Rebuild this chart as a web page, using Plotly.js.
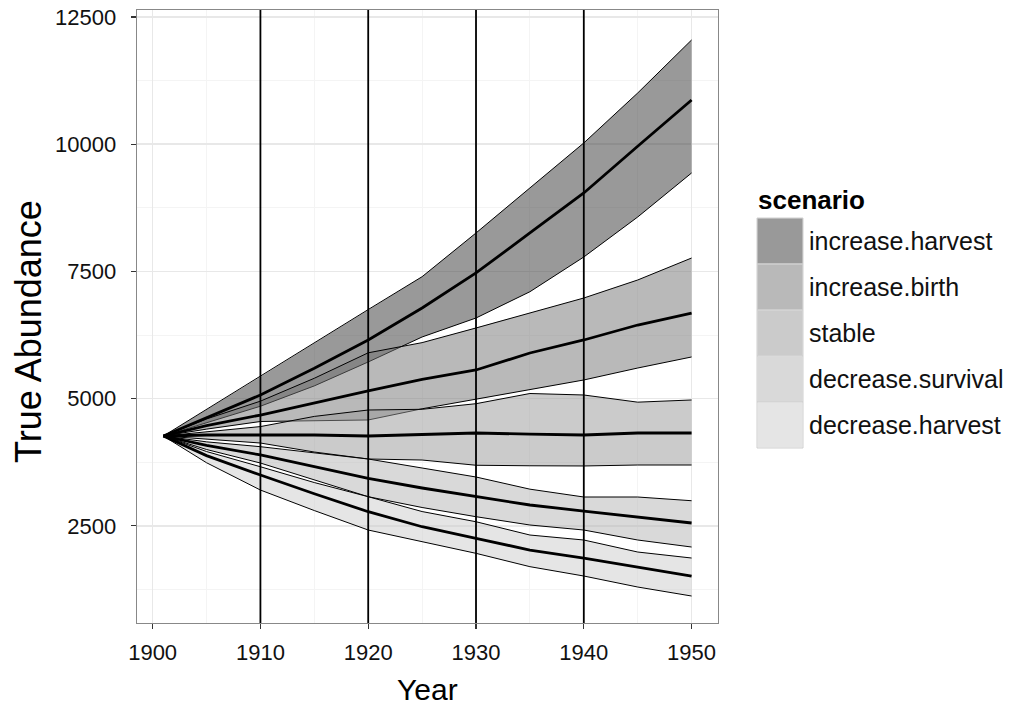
<!DOCTYPE html>
<html>
<head>
<meta charset="utf-8">
<script src="https://cdn.plot.ly/plotly-3.0.1.min.js"></script>
<style>
  html, body { margin: 0; padding: 0; background: #ffffff; }
  #chart { width: 1010px; height: 708px; }
</style>
</head>
<body>
<div id="chart"></div>
<script>
// Simulated population trajectories, 1901-1950: mean and 95% band per scenario
const years = [1901, 1905, 1910, 1915, 1920, 1925, 1930, 1935, 1940, 1945, 1950];

const scenarios = ["increase.harvest", "increase.birth", "stable", "decrease.survival", "decrease.harvest"];

const incHarvestLower = [4265, 4520, 4850, 5250, 5720, 6211, 6584, 7100, 7783, 8569, 9434];
const incHarvestMean  = [4265, 4625, 5071, 5595, 6152, 6781, 7469, 8255, 9041, 9960, 10869];
const incHarvestUpper = [4265, 4790, 5430, 6090, 6750, 7396, 8255, 9140, 10024, 11006, 12048];

const incBirthLower = [4265, 4400, 4550, 4570, 4580, 4800, 4990, 5169, 5366, 5601, 5818];
const incBirthMean  = [4265, 4470, 4677, 4920, 5150, 5380, 5562, 5896, 6152, 6446, 6682];
const incBirthUpper = [4265, 4600, 4950, 5400, 5900, 6100, 6388, 6682, 6977, 7331, 7763];

const stableLower = [4265, 4200, 4127, 3950, 3813, 3793, 3690, 3680, 3676, 3695, 3695];
const stableMean  = [4265, 4285, 4285, 4285, 4265, 4300, 4324, 4300, 4285, 4324, 4324];
const stableUpper = [4265, 4350, 4450, 4650, 4776, 4790, 4900, 5100, 5071, 4930, 4973];

const decSurvLower = [4265, 4000, 3734, 3400, 3072, 2860, 2679, 2516, 2417, 2221, 2083];
const decSurvMean  = [4265, 4080, 3892, 3660, 3434, 3243, 3072, 2909, 2790, 2673, 2555];
const decSurvUpper = [4265, 4150, 4055, 3930, 3813, 3636, 3459, 3220, 3066, 3066, 2993];

const decHarvLower = [4265, 3740, 3203, 2800, 2417, 2188, 1959, 1697, 1513, 1297, 1120];
const decHarvMean  = [4265, 3880, 3499, 3130, 2777, 2482, 2254, 2024, 1867, 1690, 1513];
const decHarvUpper = [4265, 3960, 3661, 3350, 3072, 2780, 2580, 2319, 2221, 1985, 1867];

const xTickVals = [1900, 1910, 1920, 1930, 1940, 1950];
const yTickVals = [2500, 5000, 7500, 10000, 12500];
const markerYears = [1910, 1920, 1930, 1940];

// grey fills (semi-transparent so overlapping bands darken)
const fills = [
  "rgba(51,51,51,0.5)",
  "rgba(115,115,115,0.5)",
  "rgba(152,152,152,0.5)",
  "rgba(180,180,180,0.5)",
  "rgba(204,204,204,0.5)"
];

const bands = [
  [incHarvestLower, incHarvestMean, incHarvestUpper],
  [incBirthLower, incBirthMean, incBirthUpper],
  [stableLower, stableMean, stableUpper],
  [decSurvLower, decSurvMean, decSurvUpper],
  [decHarvLower, decHarvMean, decHarvUpper]
];

const FONT = "Liberation Sans, Arial, sans-serif";
const traces = [];

// ribbons: filled polygon + outline of lower and upper edges
bands.forEach((b, i) => {
  const [lo, mid, hi] = b;
  traces.push({
    x: years.concat(years.slice().reverse()),
    y: lo.concat(hi.slice().reverse()),
    mode: "lines", fill: "toself", fillcolor: fills[i],
    line: { width: 0, color: "rgba(0,0,0,0)" },
    hoverinfo: "skip", showlegend: false, name: scenarios[i]
  });
  traces.push({ x: years, y: lo, mode: "lines", line: { color: "#000", width: 1 }, showlegend: false, hoverinfo: "skip" });
  traces.push({ x: years, y: hi, mode: "lines", line: { color: "#000", width: 1 }, showlegend: false, hoverinfo: "skip" });
});

// mean trajectories on top
bands.forEach((b, i) => {
  traces.push({ x: years, y: b[1], mode: "lines", line: { color: "#000", width: 2.8 }, showlegend: false, name: scenarios[i] });
});

// plot-area geometry in pixels
const W = 1010, H = 708;
const L = 137, R = 718, T = 10, B = 623;
const px = (x) => (x - L) / (R - L);
const py = (y) => (B - y) / (B - T);

const shapes = markerYears.map((yr) => ({
  type: "line", xref: "x", yref: "paper", x0: yr, x1: yr, y0: 0, y1: 1,
  line: { color: "#000", width: 1.8 }, layer: "above"
}));

const annotations = [];

// legend drawn by hand
const keyX0 = 757, keyX1 = 803, keyTop = 218, keyH = 46;
annotations.push({
  xref: "paper", yref: "paper", x: px(keyX0 - 1), y: py(200), xanchor: "left", yanchor: "middle",
  text: "<b>scenario</b>", showarrow: false, font: { family: FONT, size: 26, color: "#000" }
});
scenarios.forEach((s, i) => {
  const y0 = keyTop + i * keyH, y1 = y0 + keyH;
  shapes.push({
    type: "rect", xref: "paper", yref: "paper", x0: px(keyX0), x1: px(keyX1), y0: py(y1), y1: py(y0),
    fillcolor: "#ffffff", line: { color: "#cfcfcf", width: 1 }, layer: "above"
  });
  shapes.push({
    type: "rect", xref: "paper", yref: "paper", x0: px(keyX0 + 0.5), x1: px(keyX1 - 0.5), y0: py(y1 - 0.5), y1: py(y0 + 0.5),
    fillcolor: fills[i], line: { width: 0 }, layer: "above"
  });
  annotations.push({
    xref: "paper", yref: "paper", x: px(807), y: py((y0 + y1) / 2), xanchor: "left", yanchor: "middle",
    text: s, showarrow: false, font: { family: FONT, size: 25, color: "#111" }
  });
});

// axis titles
annotations.push({
  xref: "paper", yref: "paper", x: 0.5, y: py(689), xanchor: "center", yanchor: "middle",
  text: "Year", showarrow: false, font: { family: FONT, size: 30, color: "#000" }
});
annotations.push({
  xref: "paper", yref: "paper", x: px(28), y: py(332), xanchor: "center", yanchor: "middle",
  text: "True Abundance", textangle: -90, showarrow: false, font: { family: FONT, size: 36, color: "#000" }
});

const layout = {
  width: W, height: H,
  margin: { l: L, r: W - R, t: T, b: H - B, pad: 0 },
  paper_bgcolor: "#ffffff", plot_bgcolor: "#ffffff",
  showlegend: false,
  xaxis: {
    range: [1898.55, 1952.45], tickvals: xTickVals, ticktext: xTickVals.map(String),
    ticks: "outside", ticklen: 5, tickwidth: 1.2, tickcolor: "#333",
    showgrid: true, gridcolor: "#e8e8e8", gridwidth: 1.4,
    minor: { dtick: 5, tick0: 1905, showgrid: true, gridcolor: "#f4f4f4", gridwidth: 1 },
    showline: true, mirror: true, linecolor: "#888888", linewidth: 1.3,
    zeroline: false, tickfont: { family: FONT, size: 22, color: "#111" },
    ticklabelstandoff: 4
  },
  yaxis: {
    range: [590, 12637], tickvals: yTickVals, ticktext: yTickVals.map(String),
    ticks: "outside", ticklen: 5, tickwidth: 1.2, tickcolor: "#333",
    showgrid: true, gridcolor: "#e8e8e8", gridwidth: 1.4,
    minor: { dtick: 2500, tick0: 1250, showgrid: true, gridcolor: "#f4f4f4", gridwidth: 1 },
    showline: true, mirror: true, linecolor: "#888888", linewidth: 1.3,
    zeroline: false, tickfont: { family: FONT, size: 22, color: "#111" },
    ticklabelstandoff: 10
  },
  shapes: shapes,
  annotations: annotations
};

Plotly.newPlot("chart", traces, layout, { staticPlot: true, displayModeBar: false });
</script>
</body>
</html>
